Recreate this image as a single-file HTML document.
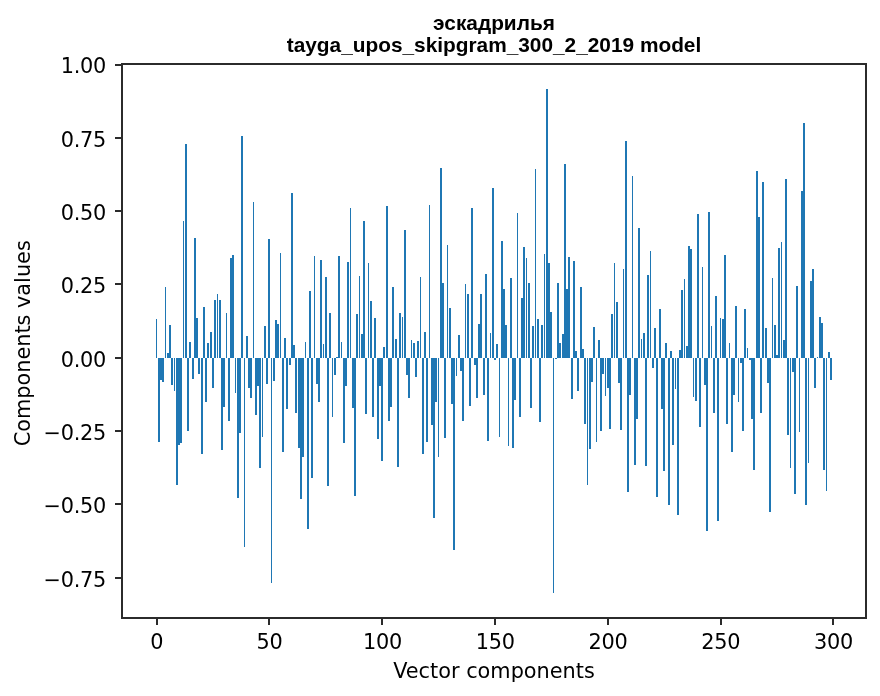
<!DOCTYPE html>
<html lang="ru"><head><meta charset="utf-8"><title>эскадрилья</title>
<style>
html,body{margin:0;padding:0;background:#fff;}
body{width:880px;height:696px;overflow:hidden;}
svg{display:block;will-change:transform;}
.tk{font-family:"DejaVu Sans","Liberation Sans",sans-serif;font-size:20.83px;fill:#000;}
.ti{font-family:"Liberation Sans","DejaVu Sans",sans-serif;font-weight:bold;font-size:20.83px;fill:#000;}
</style></head><body>
<svg width="880" height="696" viewBox="0 0 880 696">
<rect x="0" y="0" width="880" height="696" fill="#fff"/>
<g fill="#1f77b4" shape-rendering="crispEdges">
<rect x="156" y="319" width="1" height="39"/>
<rect x="158" y="358" width="2" height="84"/>
<rect x="160" y="358" width="2" height="22"/>
<rect x="162" y="358" width="2" height="24"/>
<rect x="165" y="287" width="1" height="71"/>
<rect x="167" y="353" width="2" height="5"/>
<rect x="169" y="325" width="2" height="33"/>
<rect x="171" y="358" width="2" height="27"/>
<rect x="174" y="358" width="1" height="33"/>
<rect x="176" y="358" width="2" height="127"/>
<rect x="178" y="358" width="2" height="87"/>
<rect x="180" y="358" width="2" height="85"/>
<rect x="183" y="221" width="1" height="137"/>
<rect x="185" y="144" width="2" height="214"/>
<rect x="187" y="358" width="2" height="73"/>
<rect x="189" y="342" width="2" height="16"/>
<rect x="192" y="358" width="2" height="21"/>
<rect x="194" y="238" width="2" height="120"/>
<rect x="196" y="318" width="2" height="40"/>
<rect x="198" y="358" width="2" height="16"/>
<rect x="201" y="358" width="2" height="96"/>
<rect x="203" y="307" width="2" height="51"/>
<rect x="205" y="358" width="2" height="44"/>
<rect x="207" y="343" width="2" height="15"/>
<rect x="210" y="332" width="2" height="26"/>
<rect x="212" y="358" width="2" height="30"/>
<rect x="214" y="300" width="2" height="58"/>
<rect x="217" y="294" width="1" height="64"/>
<rect x="219" y="300" width="2" height="58"/>
<rect x="221" y="358" width="2" height="92"/>
<rect x="223" y="358" width="2" height="49"/>
<rect x="226" y="313" width="1" height="45"/>
<rect x="228" y="358" width="2" height="63"/>
<rect x="230" y="258" width="2" height="100"/>
<rect x="232" y="255" width="2" height="103"/>
<rect x="235" y="358" width="1" height="35"/>
<rect x="237" y="358" width="2" height="140"/>
<rect x="239" y="358" width="2" height="75"/>
<rect x="241" y="136" width="2" height="222"/>
<rect x="244" y="358" width="1" height="189"/>
<rect x="246" y="336" width="2" height="22"/>
<rect x="248" y="358" width="2" height="30"/>
<rect x="250" y="358" width="2" height="40"/>
<rect x="253" y="202" width="1" height="156"/>
<rect x="255" y="358" width="2" height="57"/>
<rect x="257" y="358" width="2" height="28"/>
<rect x="259" y="358" width="2" height="110"/>
<rect x="262" y="358" width="1" height="79"/>
<rect x="264" y="326" width="2" height="32"/>
<rect x="266" y="358" width="2" height="26"/>
<rect x="268" y="239" width="2" height="119"/>
<rect x="271" y="358" width="1" height="225"/>
<rect x="273" y="358" width="2" height="23"/>
<rect x="275" y="320" width="2" height="38"/>
<rect x="277" y="324" width="2" height="34"/>
<rect x="280" y="253" width="1" height="105"/>
<rect x="282" y="358" width="2" height="94"/>
<rect x="284" y="338" width="2" height="20"/>
<rect x="286" y="358" width="2" height="51"/>
<rect x="289" y="358" width="2" height="7"/>
<rect x="291" y="193" width="2" height="165"/>
<rect x="293" y="345" width="2" height="13"/>
<rect x="295" y="358" width="2" height="55"/>
<rect x="298" y="358" width="2" height="90"/>
<rect x="300" y="358" width="2" height="141"/>
<rect x="302" y="358" width="2" height="99"/>
<rect x="305" y="342" width="1" height="16"/>
<rect x="307" y="358" width="2" height="171"/>
<rect x="309" y="291" width="2" height="67"/>
<rect x="311" y="358" width="2" height="120"/>
<rect x="314" y="256" width="1" height="102"/>
<rect x="316" y="358" width="2" height="26"/>
<rect x="318" y="358" width="2" height="44"/>
<rect x="320" y="260" width="2" height="98"/>
<rect x="323" y="344" width="1" height="14"/>
<rect x="325" y="277" width="2" height="81"/>
<rect x="327" y="358" width="2" height="128"/>
<rect x="329" y="313" width="2" height="45"/>
<rect x="332" y="358" width="1" height="59"/>
<rect x="334" y="358" width="2" height="17"/>
<rect x="336" y="357" width="2" height="1"/>
<rect x="338" y="256" width="2" height="102"/>
<rect x="341" y="342" width="1" height="16"/>
<rect x="343" y="358" width="2" height="85"/>
<rect x="345" y="358" width="2" height="28"/>
<rect x="347" y="262" width="2" height="96"/>
<rect x="350" y="208" width="1" height="150"/>
<rect x="352" y="358" width="2" height="50"/>
<rect x="354" y="358" width="2" height="138"/>
<rect x="356" y="314" width="2" height="44"/>
<rect x="359" y="276" width="1" height="82"/>
<rect x="361" y="334" width="2" height="24"/>
<rect x="363" y="221" width="2" height="137"/>
<rect x="365" y="358" width="2" height="56"/>
<rect x="368" y="263" width="1" height="95"/>
<rect x="370" y="301" width="2" height="57"/>
<rect x="372" y="358" width="2" height="59"/>
<rect x="374" y="318" width="2" height="40"/>
<rect x="377" y="358" width="2" height="81"/>
<rect x="379" y="358" width="2" height="28"/>
<rect x="381" y="358" width="2" height="103"/>
<rect x="383" y="347" width="2" height="11"/>
<rect x="386" y="206" width="2" height="152"/>
<rect x="388" y="358" width="2" height="63"/>
<rect x="390" y="358" width="2" height="49"/>
<rect x="392" y="287" width="2" height="71"/>
<rect x="395" y="339" width="2" height="19"/>
<rect x="397" y="358" width="2" height="109"/>
<rect x="399" y="313" width="2" height="45"/>
<rect x="402" y="317" width="1" height="41"/>
<rect x="404" y="230" width="2" height="128"/>
<rect x="406" y="358" width="2" height="17"/>
<rect x="408" y="358" width="2" height="40"/>
<rect x="411" y="340" width="1" height="18"/>
<rect x="413" y="343" width="2" height="15"/>
<rect x="415" y="358" width="2" height="19"/>
<rect x="417" y="341" width="2" height="17"/>
<rect x="420" y="277" width="1" height="81"/>
<rect x="422" y="358" width="2" height="96"/>
<rect x="424" y="332" width="2" height="26"/>
<rect x="426" y="358" width="2" height="84"/>
<rect x="429" y="205" width="1" height="153"/>
<rect x="431" y="358" width="2" height="67"/>
<rect x="433" y="358" width="2" height="160"/>
<rect x="435" y="358" width="2" height="44"/>
<rect x="438" y="358" width="1" height="99"/>
<rect x="440" y="168" width="2" height="190"/>
<rect x="442" y="283" width="2" height="75"/>
<rect x="444" y="358" width="2" height="80"/>
<rect x="447" y="245" width="1" height="113"/>
<rect x="449" y="308" width="2" height="50"/>
<rect x="451" y="358" width="2" height="46"/>
<rect x="453" y="358" width="2" height="192"/>
<rect x="456" y="358" width="1" height="18"/>
<rect x="458" y="335" width="2" height="23"/>
<rect x="460" y="358" width="2" height="13"/>
<rect x="462" y="358" width="2" height="63"/>
<rect x="465" y="284" width="1" height="74"/>
<rect x="467" y="294" width="2" height="64"/>
<rect x="469" y="358" width="2" height="48"/>
<rect x="471" y="208" width="2" height="150"/>
<rect x="474" y="358" width="2" height="7"/>
<rect x="476" y="358" width="2" height="40"/>
<rect x="478" y="324" width="2" height="34"/>
<rect x="480" y="294" width="2" height="64"/>
<rect x="483" y="358" width="2" height="37"/>
<rect x="485" y="274" width="2" height="84"/>
<rect x="487" y="358" width="2" height="83"/>
<rect x="490" y="333" width="1" height="25"/>
<rect x="492" y="188" width="2" height="170"/>
<rect x="494" y="358" width="2" height="2"/>
<rect x="496" y="344" width="2" height="14"/>
<rect x="499" y="358" width="1" height="79"/>
<rect x="501" y="241" width="2" height="117"/>
<rect x="503" y="289" width="2" height="69"/>
<rect x="505" y="325" width="2" height="33"/>
<rect x="508" y="358" width="1" height="88"/>
<rect x="510" y="278" width="2" height="80"/>
<rect x="512" y="358" width="2" height="90"/>
<rect x="514" y="358" width="2" height="42"/>
<rect x="517" y="213" width="1" height="145"/>
<rect x="519" y="358" width="2" height="59"/>
<rect x="521" y="298" width="2" height="60"/>
<rect x="523" y="247" width="2" height="111"/>
<rect x="526" y="258" width="1" height="100"/>
<rect x="528" y="283" width="2" height="75"/>
<rect x="530" y="358" width="2" height="50"/>
<rect x="532" y="326" width="2" height="32"/>
<rect x="535" y="169" width="1" height="189"/>
<rect x="537" y="319" width="2" height="39"/>
<rect x="539" y="358" width="2" height="64"/>
<rect x="541" y="325" width="2" height="33"/>
<rect x="544" y="254" width="1" height="104"/>
<rect x="546" y="89" width="2" height="269"/>
<rect x="548" y="263" width="2" height="95"/>
<rect x="550" y="312" width="2" height="46"/>
<rect x="553" y="358" width="1" height="235"/>
<rect x="555" y="358" width="2" height="1"/>
<rect x="557" y="283" width="2" height="75"/>
<rect x="559" y="343" width="2" height="15"/>
<rect x="562" y="334" width="2" height="24"/>
<rect x="564" y="164" width="2" height="194"/>
<rect x="566" y="289" width="2" height="69"/>
<rect x="568" y="257" width="2" height="101"/>
<rect x="571" y="358" width="2" height="41"/>
<rect x="573" y="261" width="2" height="97"/>
<rect x="575" y="351" width="2" height="7"/>
<rect x="577" y="358" width="2" height="33"/>
<rect x="580" y="287" width="2" height="71"/>
<rect x="582" y="349" width="2" height="9"/>
<rect x="584" y="358" width="2" height="66"/>
<rect x="587" y="358" width="1" height="127"/>
<rect x="589" y="358" width="2" height="91"/>
<rect x="591" y="358" width="2" height="24"/>
<rect x="593" y="327" width="2" height="31"/>
<rect x="596" y="358" width="1" height="84"/>
<rect x="598" y="340" width="2" height="18"/>
<rect x="600" y="358" width="2" height="73"/>
<rect x="602" y="358" width="2" height="16"/>
<rect x="605" y="358" width="1" height="38"/>
<rect x="607" y="358" width="2" height="30"/>
<rect x="609" y="358" width="2" height="71"/>
<rect x="611" y="314" width="2" height="44"/>
<rect x="614" y="263" width="1" height="95"/>
<rect x="616" y="302" width="2" height="56"/>
<rect x="618" y="358" width="2" height="25"/>
<rect x="620" y="358" width="2" height="72"/>
<rect x="623" y="269" width="1" height="89"/>
<rect x="625" y="141" width="2" height="217"/>
<rect x="627" y="358" width="2" height="134"/>
<rect x="629" y="358" width="2" height="37"/>
<rect x="632" y="176" width="1" height="182"/>
<rect x="634" y="358" width="2" height="107"/>
<rect x="636" y="358" width="2" height="61"/>
<rect x="638" y="228" width="2" height="130"/>
<rect x="641" y="339" width="1" height="19"/>
<rect x="643" y="333" width="2" height="25"/>
<rect x="645" y="358" width="2" height="108"/>
<rect x="647" y="275" width="2" height="83"/>
<rect x="650" y="251" width="1" height="107"/>
<rect x="652" y="358" width="2" height="10"/>
<rect x="654" y="328" width="2" height="30"/>
<rect x="656" y="358" width="2" height="139"/>
<rect x="659" y="309" width="2" height="49"/>
<rect x="661" y="358" width="2" height="51"/>
<rect x="663" y="358" width="2" height="113"/>
<rect x="665" y="343" width="2" height="15"/>
<rect x="668" y="358" width="2" height="147"/>
<rect x="670" y="351" width="2" height="7"/>
<rect x="672" y="358" width="2" height="87"/>
<rect x="675" y="358" width="1" height="31"/>
<rect x="677" y="358" width="2" height="157"/>
<rect x="679" y="350" width="2" height="8"/>
<rect x="681" y="290" width="2" height="68"/>
<rect x="684" y="279" width="1" height="79"/>
<rect x="686" y="346" width="2" height="12"/>
<rect x="688" y="246" width="2" height="112"/>
<rect x="690" y="249" width="2" height="109"/>
<rect x="693" y="358" width="1" height="39"/>
<rect x="695" y="358" width="2" height="43"/>
<rect x="697" y="214" width="2" height="144"/>
<rect x="699" y="358" width="2" height="69"/>
<rect x="702" y="267" width="1" height="91"/>
<rect x="704" y="358" width="2" height="27"/>
<rect x="706" y="358" width="2" height="173"/>
<rect x="708" y="212" width="2" height="146"/>
<rect x="711" y="326" width="1" height="32"/>
<rect x="713" y="358" width="2" height="55"/>
<rect x="715" y="296" width="2" height="62"/>
<rect x="717" y="358" width="2" height="163"/>
<rect x="720" y="318" width="1" height="40"/>
<rect x="722" y="319" width="2" height="39"/>
<rect x="724" y="255" width="2" height="103"/>
<rect x="726" y="358" width="2" height="66"/>
<rect x="729" y="343" width="1" height="15"/>
<rect x="731" y="358" width="2" height="94"/>
<rect x="733" y="358" width="2" height="37"/>
<rect x="735" y="306" width="2" height="52"/>
<rect x="738" y="358" width="1" height="44"/>
<rect x="740" y="358" width="2" height="5"/>
<rect x="742" y="358" width="2" height="73"/>
<rect x="744" y="309" width="2" height="49"/>
<rect x="747" y="348" width="1" height="10"/>
<rect x="749" y="358" width="2" height="2"/>
<rect x="751" y="358" width="2" height="61"/>
<rect x="753" y="358" width="2" height="112"/>
<rect x="756" y="171" width="2" height="187"/>
<rect x="758" y="217" width="2" height="141"/>
<rect x="760" y="358" width="2" height="55"/>
<rect x="762" y="182" width="2" height="176"/>
<rect x="765" y="328" width="2" height="30"/>
<rect x="767" y="358" width="2" height="25"/>
<rect x="769" y="358" width="2" height="154"/>
<rect x="772" y="278" width="1" height="80"/>
<rect x="774" y="325" width="2" height="33"/>
<rect x="776" y="355" width="2" height="3"/>
<rect x="778" y="248" width="2" height="110"/>
<rect x="781" y="242" width="1" height="116"/>
<rect x="783" y="340" width="2" height="18"/>
<rect x="785" y="179" width="2" height="179"/>
<rect x="787" y="358" width="2" height="77"/>
<rect x="790" y="358" width="1" height="110"/>
<rect x="792" y="358" width="2" height="14"/>
<rect x="794" y="358" width="2" height="136"/>
<rect x="796" y="286" width="2" height="72"/>
<rect x="799" y="358" width="1" height="74"/>
<rect x="801" y="191" width="2" height="167"/>
<rect x="803" y="123" width="2" height="235"/>
<rect x="805" y="358" width="2" height="147"/>
<rect x="808" y="358" width="1" height="105"/>
<rect x="810" y="281" width="2" height="77"/>
<rect x="812" y="269" width="2" height="89"/>
<rect x="814" y="358" width="2" height="30"/>
<rect x="817" y="357" width="1" height="1"/>
<rect x="819" y="317" width="2" height="41"/>
<rect x="821" y="323" width="2" height="35"/>
<rect x="823" y="358" width="2" height="112"/>
<rect x="826" y="358" width="1" height="133"/>
<rect x="828" y="352" width="2" height="6"/>
<rect x="830" y="358" width="2" height="22"/>
</g>
<g stroke="#2b2b2b" stroke-width="2" fill="none" shape-rendering="crispEdges">
<path d="M122 64H866V618H122Z"/>
</g>
<g fill="#2b2b2b" shape-rendering="crispEdges">
<rect x="156" y="619" width="2" height="6"/>
<rect x="268" y="619" width="2" height="6"/>
<rect x="381" y="619" width="2" height="6"/>
<rect x="494" y="619" width="2" height="6"/>
<rect x="607" y="619" width="2" height="6"/>
<rect x="720" y="619" width="2" height="6"/>
<rect x="832" y="619" width="2" height="6"/>
<rect x="115" y="577" width="6" height="2"/>
<rect x="115" y="503" width="6" height="2"/>
<rect x="115" y="430" width="6" height="2"/>
<rect x="115" y="357" width="6" height="2"/>
<rect x="115" y="283" width="6" height="2"/>
<rect x="115" y="210" width="6" height="2"/>
<rect x="115" y="137" width="6" height="2"/>
<rect x="115" y="64" width="6" height="2"/>
</g>
<g class="tk">
<text x="156.81" y="649.30" text-anchor="middle" style="letter-spacing:-0.25px">0</text>
<text x="269.61" y="649.30" text-anchor="middle" style="letter-spacing:-0.25px">50</text>
<text x="382.42" y="649.30" text-anchor="middle" style="letter-spacing:-0.25px">100</text>
<text x="495.22" y="649.30" text-anchor="middle" style="letter-spacing:-0.25px">150</text>
<text x="608.02" y="649.30" text-anchor="middle" style="letter-spacing:-0.25px">200</text>
<text x="720.82" y="649.30" text-anchor="middle" style="letter-spacing:-0.25px">250</text>
<text x="833.63" y="649.30" text-anchor="middle" style="letter-spacing:-0.25px">300</text>
<text x="105.90" y="586.50" text-anchor="end" style="letter-spacing:-0.3px">−0.75</text>
<text x="105.90" y="513.20" text-anchor="end" style="letter-spacing:-0.3px">−0.50</text>
<text x="105.90" y="439.90" text-anchor="end" style="letter-spacing:-0.3px">−0.25</text>
<text x="105.90" y="366.60" text-anchor="end" style="letter-spacing:-0.3px">0.00</text>
<text x="105.90" y="293.30" text-anchor="end" style="letter-spacing:-0.3px">0.25</text>
<text x="105.90" y="220.00" text-anchor="end" style="letter-spacing:-0.3px">0.50</text>
<text x="105.90" y="146.70" text-anchor="end" style="letter-spacing:-0.3px">0.75</text>
<text x="105.90" y="73.40" text-anchor="end" style="letter-spacing:-0.3px">1.00</text>
<text x="494" y="677.9" text-anchor="middle">Vector components</text>
<text transform="translate(29.5 343.3) rotate(-90)" text-anchor="middle">Components values</text>
</g>
<g class="ti">
<text x="494" y="29.5" text-anchor="middle">эскадрилья</text>
<text x="494" y="51.8" text-anchor="middle">tayga_upos_skipgram_300_2_2019 model</text>
</g>
</svg></body></html>
